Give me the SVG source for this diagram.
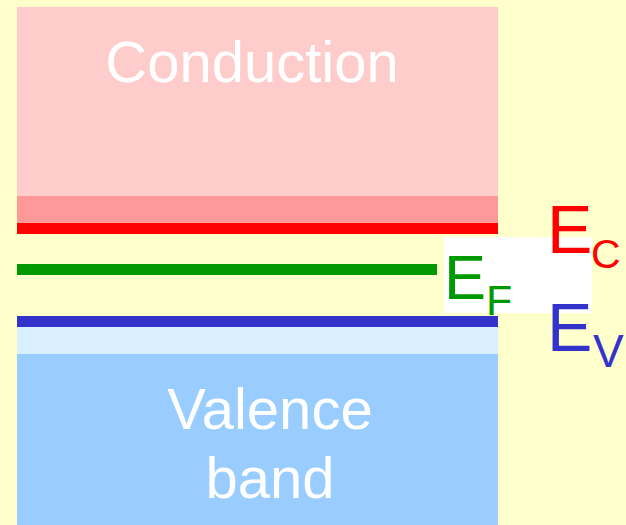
<svg xmlns="http://www.w3.org/2000/svg" width="626" height="525" viewBox="0 0 626 525">
<style>
.lbl{font-family:"Liberation Sans",Arial,sans-serif;}
.band{fill:#fff;font-size:58px;text-anchor:middle;}
</style>
<rect width="626" height="525" fill="#FFFFCC"/>
<g id="conduction">
<rect x="17" y="7" width="481" height="189" fill="#FFCCCC"/>
<rect x="17" y="196" width="481" height="27" fill="#FF9999"/>
<text class="lbl band" x="252" y="82">Conduction</text>
</g>
<g id="valence">
<rect x="17" y="327" width="481" height="27" fill="#D9EEFF"/>
<rect x="17" y="354" width="481" height="171" fill="#99CCFF"/>
<text class="lbl band" x="270" y="429">Valence</text>
<text class="lbl band" x="270" y="498">band</text>
</g>
<g id="levels">
<rect x="17" y="223" width="481" height="11" fill="#FF0000"/>
<rect x="17" y="264" width="420" height="11" fill="#009900"/>
<rect x="17" y="316" width="481" height="11" fill="#3333CC"/>
</g>
<g id="ef-label">
<rect x="444" y="237" width="148" height="76" fill="#FFFFFF"/>
<text class="lbl" x="444" y="299" font-size="63" fill="#009900">E</text>
<text class="lbl" x="486" y="315" font-size="43" fill="#009900">F</text>
</g>
<g id="ec-label">
<text class="lbl" x="547" y="253" font-size="68" fill="#FF0000">E</text>
<text class="lbl" x="591" y="268" font-size="41" fill="#FF0000">C</text>
</g>
<g id="ev-label">
<text class="lbl" x="547" y="351" font-size="68" fill="#3333CC">E</text>
<text class="lbl" x="593" y="367" font-size="46" fill="#3333CC">V</text>
</g>
</svg>
